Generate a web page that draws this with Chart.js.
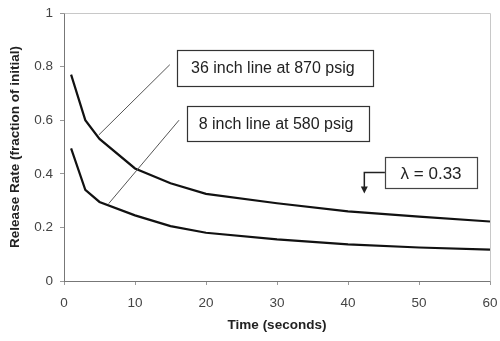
<!DOCTYPE html>
<html>
<head>
<meta charset="utf-8">
<script src="https://cdn.jsdelivr.net/npm/chart.js@4"></script>
<style>
html,body{margin:0;padding:0;background:#fff;}
#wrap{width:500px;height:341px;position:relative;}
</style>
</head>
<body>
<div id="wrap"><canvas id="c" width="500" height="341"></canvas></div>
<script>
// ---- data ----
const times = [1, 3, 5, 10, 15, 20, 30, 40, 50, 60];
const line36 = [0.77, 0.60, 0.53, 0.42, 0.365, 0.325, 0.29, 0.26, 0.24, 0.222];
const line8  = [0.495, 0.34, 0.295, 0.245, 0.205, 0.18, 0.155, 0.137, 0.125, 0.117];
const xTickValues = [0, 10, 20, 30, 40, 50, 60];
const yTickValues = [0, 0.2, 0.4, 0.6, 0.8, 1];
const yTickLabels = ['0', '0.2', '0.4', '0.6', '0.8', '1'];
const label36 = '36 inch line at 870 psig';
const label8 = '8 inch line at 580 psig';
const lambdaLabel = 'λ = 0.33';

const FONT = '"Liberation Sans", Arial, sans-serif';

function pts(xs, ys){ return xs.map((x,i)=>({x:x, y:ys[i]})); }

// annotations in data units
const notes = [
  {text: label36, box:[15.9, 0.862, 43.5, 0.728], from:[14.9, 0.807], to:[4.9, 0.545]},
  {text: label8,  box:[17.3, 0.653, 43.0, 0.522], from:[16.2, 0.600], to:[6.3, 0.289]}
];
const lambdaNote = {text: lambdaLabel, box:[45.2, 0.461, 58.2, 0.345], elbowX: 42.3, elbowY: 0.405, arrowY: 0.33};

const annoPlugin = {
  id: 'anno',
  afterDraw(chart){
    const ctx = chart.ctx, xs = chart.scales.x, ys = chart.scales.y, ca = chart.chartArea;
    const px = v => xs.getPixelForValue(v), py = v => ys.getPixelForValue(v);
    ctx.save();
    // top & right frame
    ctx.strokeStyle = '#c8c8c8';
    ctx.lineWidth = 1;
    ctx.beginPath();
    ctx.moveTo(Math.round(ca.left)+0.5, Math.round(ca.top)+0.5);
    ctx.lineTo(Math.round(ca.right)+0.5, Math.round(ca.top)+0.5);
    ctx.lineTo(Math.round(ca.right)+0.5, Math.round(ca.bottom)+0.5);
    ctx.stroke();

    ctx.font = '16px ' + FONT;
    ctx.textAlign = 'center';
    ctx.textBaseline = 'middle';
    notes.forEach(n => {
      const l = px(n.box[0]), t = py(n.box[1]), r = px(n.box[2]), b = py(n.box[3]);
      ctx.fillStyle = '#fff';
      ctx.fillRect(l, t, r-l, b-t);
      ctx.strokeStyle = '#333';
      ctx.lineWidth = 1.2;
      ctx.strokeRect(Math.round(l)+0.5, Math.round(t)+0.5, Math.round(r-l), Math.round(b-t));
      ctx.fillStyle = '#222';
      ctx.fillText(n.text, (l+r)/2 - 2, (t+b)/2+1);
      ctx.strokeStyle = '#555';
      ctx.lineWidth = 1;
      ctx.beginPath();
      ctx.moveTo(px(n.from[0]), py(n.from[1]));
      ctx.lineTo(px(n.to[0]), py(n.to[1]));
      ctx.stroke();
    });
    // lambda box
    const L = lambdaNote;
    const l = px(L.box[0]), t = py(L.box[1]), r = px(L.box[2]), b = py(L.box[3]);
    ctx.fillStyle = '#fff';
    ctx.fillRect(l, t, r-l, b-t);
    ctx.strokeStyle = '#444';
    ctx.lineWidth = 1.2;
    ctx.strokeRect(Math.round(l)+0.5, Math.round(t)+0.5, Math.round(r-l), Math.round(b-t));
    ctx.fillStyle = '#222';
    ctx.font = '17px ' + FONT;
    ctx.fillText(L.text, (l+r)/2, (t+b)/2+1);
    const ex = px(L.elbowX), ey = py(L.elbowY), ay = py(L.arrowY);
    ctx.strokeStyle = '#222';
    ctx.lineWidth = 1.5;
    ctx.beginPath();
    ctx.moveTo(l, ey);
    ctx.lineTo(ex, ey);
    ctx.lineTo(ex, ay-5);
    ctx.stroke();
    ctx.fillStyle = '#222';
    ctx.beginPath();
    ctx.moveTo(ex-3.5, ay-6);
    ctx.lineTo(ex+3.5, ay-6);
    ctx.lineTo(ex, ay+1);
    ctx.closePath();
    ctx.fill();
    ctx.restore();
  }
};

new Chart(document.getElementById('c'), {
  type: 'line',
  data: {
    datasets: [
      {label: label36, data: pts(times, line36), borderColor: '#111', borderWidth: 2.2, pointRadius: 0, tension: 0, fill: false},
      {label: label8, data: pts(times, line8), borderColor: '#111', borderWidth: 2.2, pointRadius: 0, tension: 0, fill: false}
    ]
  },
  options: {
    responsive: false,
    animation: false,
    devicePixelRatio: 1,
    layout: {padding: {top: 13, right: 10, bottom: 0, left: 0}},
    plugins: {legend: {display: false}, tooltip: {enabled: false}},
    scales: {
      x: {
        type: 'linear', min: 0, max: 60,
        afterBuildTicks: s => { s.ticks = xTickValues.map(v => ({value: v})); },
        afterFit: s => { s.height = 60; s.paddingRight = 0; s.paddingLeft = 0; },
        grid: {display: true, color: 'rgba(0,0,0,0)', drawOnChartArea: false, tickLength: 4, tickColor: '#999'},
        border: {display: true, color: '#777', width: 1},
        ticks: {color: '#444', font: {family: FONT, size: 13.5}, padding: 10, maxRotation: 0},
        title: {display: true, text: 'Time (seconds)', color: '#222', font: {family: FONT, size: 13.5, weight: 'bold'}, padding: {top: 0, bottom: 8}}
      },
      y: {
        type: 'linear', min: 0, max: 1,
        afterBuildTicks: s => { s.ticks = yTickValues.map(v => ({value: v})); },
        afterFit: s => { s.width = 64; s.paddingTop = 0; s.paddingBottom = 0; },
        grid: {display: true, color: 'rgba(0,0,0,0)', drawOnChartArea: false, tickLength: 4, tickColor: '#999'},
        border: {display: true, color: '#777', width: 1},
        ticks: {color: '#444', font: {family: FONT, size: 13.5}, padding: 7,
          callback: (v) => { const i = yTickValues.indexOf(v); return i >= 0 ? yTickLabels[i] : ''; }},
        title: {display: true, text: 'Release Rate (fraction of initial)', color: '#222', font: {family: FONT, size: 13.5, weight: 'bold'}, padding: {top: 7, bottom: 0}}
      }
    }
  },
  plugins: [annoPlugin]
});
</script>
</body>
</html>
